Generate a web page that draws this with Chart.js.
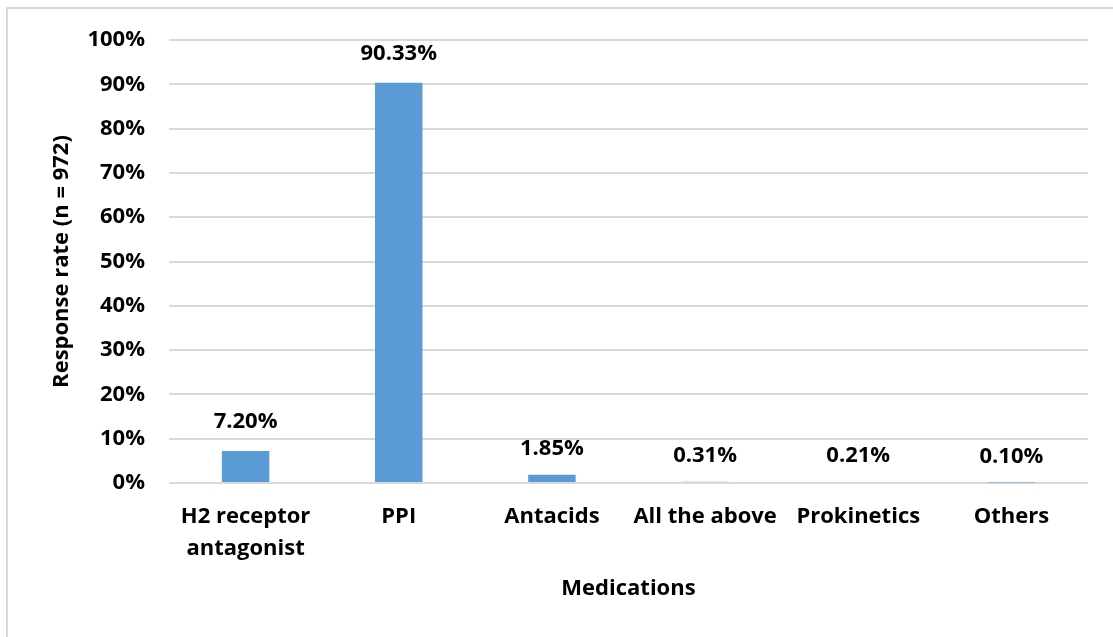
<!DOCTYPE html>
<html>
<head>
<meta charset="utf-8">
<script src="https://cdn.jsdelivr.net/npm/chart.js@4"></script>
<style>
  body { margin: 0; background: #fff; }
  #wrap { position: relative; width: 1113px; height: 637px; overflow: hidden; }
  #frame { position: absolute; left: 6px; top: 7px; width: 1200px; height: 700px; border: 2px solid #d9d9d9; }
  canvas { position: absolute; left: 0; top: 0; }
</style>
</head>
<body>
<div id="wrap">
  <div id="frame"></div>
  <canvas id="myChart" width="1113" height="637"></canvas>
</div>
<script>
// data
const medications = [["H2 receptor", "antagonist"], "PPI", "Antacids", "All the above", "Prokinetics", "Others"];
const responseRate = [7.20, 90.33, 1.85, 0.31, 0.21, 0.10];

const fontFam = "'Open Sans', Lato, sans-serif";
const fontSize = 22;

// labels above each bar
const labelAtas = {
  id: "labelAtas",
  afterDatasetsDraw(chart) {
    let ctx = chart.ctx;
    let meta = chart.getDatasetMeta(0);
    ctx.save();
    ctx.font = "bold " + fontSize + "px " + fontFam;
    ctx.fillStyle = "#000";
    ctx.textAlign = "center";
    ctx.textBaseline = "middle";
    meta.data.forEach((bar, i) => {
      let y = Math.min(bar.y, chart.scales.y.getPixelForValue(0)) - 26;
      if (responseRate[i] > 5) y = bar.y - 29;
      ctx.fillText(responseRate[i].toFixed(2) + "%", bar.x, y);
    });
    ctx.restore();
  }
};

let canvasChart = document.getElementById("myChart");
new Chart(canvasChart, {
  type: "bar",
  data: {
    labels: medications,
    datasets: [{
      data: responseRate,
      backgroundColor: "#5b9bd5",
      borderWidth: 0,
      categoryPercentage: 1,
      barPercentage: 0.31
    }]
  },
  options: {
    responsive: false,
    animation: false,
    layout: { padding: { left: 45, right: 25, top: 40, bottom: 31 } },
    plugins: {
      legend: { display: false },
      tooltip: { enabled: false }
    },
    scales: {
      x: {
        grid: { display: false, drawTicks: false },
        border: { display: false },
        ticks: {
          color: "#000",
          font: { family: fontFam, size: fontSize, weight: "bold", lineHeight: 1.45 },
          padding: 18,
          maxRotation: 0,
          autoSkip: false
        },
        title: {
          display: true,
          text: "Medications",
          color: "#000",
          font: { family: fontFam, size: fontSize, weight: "bold" }
        },
        afterFit(scale) { scale.height = 123; }
      },
      y: {
        min: 0,
        max: 100,
        grid: { color: "#d9d9d9", lineWidth: 2, drawTicks: false },
        border: { display: false },
        ticks: {
          stepSize: 10,
          color: "#000",
          font: { family: fontFam, size: fontSize, weight: "bold" },
          padding: 24,
          callback: v => v + "%"
        },
        title: {
          display: true,
          text: "Response rate (n = 972)",
          color: "#000",
          font: { family: fontFam, size: fontSize, weight: "bold" }
        },
        afterFit(scale) { scale.width = 124; }
      }
    }
  },
  plugins: [labelAtas]
});
</script>
</body>
</html>
